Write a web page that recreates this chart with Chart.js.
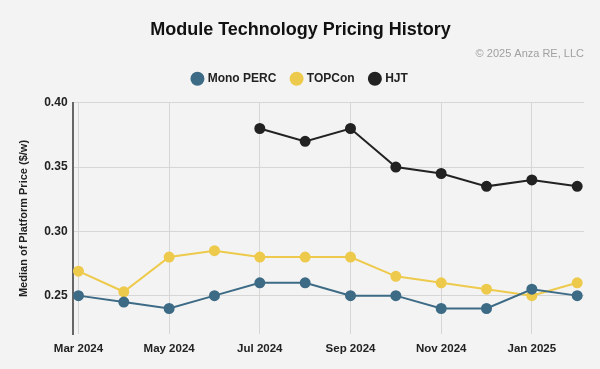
<!DOCTYPE html>
<html lang="en">
<head>
    <meta charset="UTF-8" />
    <title>Module Technology Pricing History</title>
    <script src="https://cdn.jsdelivr.net/npm/chart.js"></script>
    <style>
        html, body { margin: 0; padding: 0; background: #f3f3f3; }
        #wrap { width: 600px; height: 369px; }
    </style>
</head>
<body>
    <div id="wrap"><canvas id="myChart"></canvas></div>

    <script>
        // monthly medians, Mar 2024 - Feb 2025
        const months = ['Mar 2024', 'Apr 2024', 'May 2024', 'Jun 2024', 'Jul 2024', 'Aug 2024',
                        'Sep 2024', 'Oct 2024', 'Nov 2024', 'Dec 2024', 'Jan 2025', 'Feb 2025'];
        const monoPerc = [0.250, 0.245, 0.240, 0.250, 0.260, 0.260, 0.250, 0.250, 0.240, 0.240, 0.255, 0.250];
        const topcon   = [0.269, 0.253, 0.280, 0.285, 0.280, 0.280, 0.280, 0.265, 0.260, 0.255, 0.250, 0.260];
        const hjt      = [null, null, null, null, 0.380, 0.370, 0.380, 0.350, 0.345, 0.335, 0.340, 0.335];
        const yTicks = [0.25, 0.30, 0.35, 0.40];

        const font = "'Liberation Sans', Arial, sans-serif";
        const toPoints = arr => arr.map((v, i) => ({ x: i, y: v }));

        function serie(label, color, values) {
            return {
                label: label,
                data: toPoints(values),
                borderColor: color,
                backgroundColor: color,
                pointBackgroundColor: color,
                pointBorderColor: color,
                borderWidth: 2,
                pointRadius: 4.5,
                pointHoverRadius: 5,
                fill: false,
                tension: 0,
                spanGaps: false
            };
        }

        // a bit more room between the legend and the plot
        const legendGap = {
            id: 'legendGap',
            beforeInit(chart) {
                const fit = chart.legend.fit;
                chart.legend.fit = function () {
                    fit.call(this);
                    this.height += 8;
                };
            }
        };

        const ctx = document.getElementById('myChart').getContext('2d');

        new Chart(ctx, {
            type: 'line',
            data: {
                datasets: [
                    serie('Mono PERC', '#3d6b86', monoPerc),
                    serie('TOPCon', '#eeca4c', topcon),
                    serie('HJT', '#222222', hjt)
                ]
            },
            plugins: [legendGap],
            options: {
                responsive: true,
                maintainAspectRatio: false,
                animation: false,
                layout: { padding: { top: 0, right: 16, bottom: 5, left: 17 } },
                plugins: {
                    title: {
                        display: true,
                        text: 'Module Technology Pricing History',
                        color: '#111',
                        font: { family: font, size: 18, weight: 'bold' },
                        padding: { top: 19, bottom: 0 }
                    },
                    subtitle: {
                        display: true,
                        text: '\u00a9 2025 Anza RE, LLC',
                        align: 'end',
                        color: '#a0a0a0',
                        font: { family: font, size: 11 },
                        padding: { top: 7, bottom: -4 }
                    },
                    legend: {
                        position: 'top',
                        labels: {
                            usePointStyle: true,
                            pointStyle: 'circle',
                            boxWidth: 8.5,
                            boxHeight: 8.5,
                            padding: 16,
                            color: '#222',
                            font: { family: font, size: 12, weight: 'bold' }
                        }
                    },
                    tooltip: { enabled: false }
                },
                scales: {
                    x: {
                        type: 'linear',
                        min: -0.13,
                        max: 11.15,
                        afterBuildTicks: s => { s.ticks = months.map((m, i) => ({ value: i })); },
                        ticks: {
                            color: '#222',
                            padding: 8,
                            maxRotation: 0,
                            autoSkip: false,
                            font: { family: font, size: 11.5, weight: 'bold' },
                            callback: (v) => (v % 2 === 0 ? months[v] : '')
                        },
                        grid: {
                            drawTicks: false,
                            color: c => (c.tick && c.tick.value % 2 === 0 ? '#d6d6d6' : 'rgba(0,0,0,0)')
                        },
                        border: { display: false }
                    },
                    y: {
                        min: 0.22,
                        max: 0.40,
                        afterBuildTicks: s => { s.ticks = yTicks.map(v => ({ value: v })); },
                        ticks: {
                            color: '#222',
                            padding: 5,
                            font: { family: font, size: 12, weight: 'bold' },
                            callback: v => v.toFixed(2)
                        },
                        grid: { drawTicks: false, color: '#d6d6d6' },
                        border: { display: true, color: '#666', width: 2 },
                        title: {
                            display: true,
                            text: 'Median of Platform Price ($/w)',
                            color: '#222',
                            font: { family: font, size: 11, weight: 'bold' },
                            padding: { top: 0, bottom: 9 }
                        }
                    }
                }
            }
        });
    </script>
</body>
</html>
